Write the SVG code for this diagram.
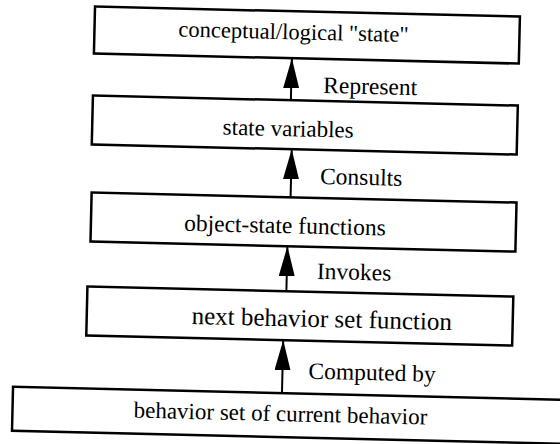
<svg xmlns="http://www.w3.org/2000/svg" width="560" height="444" viewBox="0 0 560 444">
<style>
.box{fill:#fff;stroke:#000;stroke-width:2.5}
.t{font-family:"Liberation Serif","Times New Roman",serif;fill:#000}
.c{text-anchor:middle}
.edge{stroke:#000;stroke-width:2;fill:none}
</style>
<defs>
<marker id="ah" viewBox="0 0 30 16" refX="30" refY="8" markerWidth="30" markerHeight="16" markerUnits="userSpaceOnUse" orient="auto">
<path d="M0,0 L30,8 L0,16 Z" fill="#000"/>
</marker>
</defs>
<rect width="560" height="444" fill="#fff"/>
<g transform="rotate(1.35 280 222)">
<g id="node-conceptual">
<rect class="box" x="90" y="11" width="425" height="47"/>
<text class="t c" x="289" y="39" font-size="22.5">conceptual/logical "state"</text>
</g>
<g id="node-state-variables">
<rect class="box" x="90" y="100" width="425" height="49"/>
<text class="t c" x="286" y="136" font-size="23">state variables</text>
</g>
<g id="node-object-state">
<rect class="box" x="91" y="197" width="425" height="49"/>
<text class="t c" x="285" y="233" font-size="23.5">object-state functions</text>
</g>
<g id="node-next-behavior">
<rect class="box" x="89" y="291" width="426" height="49"/>
<text class="t c" x="324" y="326" font-size="25">next behavior set function</text>
</g>
<g id="node-behavior-set">
<rect class="box" x="17" y="393" width="620" height="44"/>
<text class="t c" x="285" y="421" font-size="23">behavior set of current behavior</text>
</g>
<g id="connectors">
<line class="edge" x1="288" y1="100" x2="288" y2="58" marker-end="url(#ah)"/>
<text class="t" x="320" y="92" font-size="23.5">Represent</text>
<line class="edge" x1="290" y1="197" x2="290" y2="149" marker-end="url(#ah)"/>
<text class="t" x="319" y="183" font-size="23.5">Consults</text>
<line class="edge" x1="288" y1="291" x2="288" y2="246" marker-end="url(#ah)"/>
<text class="t" x="318" y="278" font-size="23.5">Invokes</text>
<line class="edge" x1="286" y1="393" x2="286" y2="340" marker-end="url(#ah)"/>
<text class="t" x="312" y="378" font-size="23.5">Computed by</text>
</g>
</g>
</svg>
